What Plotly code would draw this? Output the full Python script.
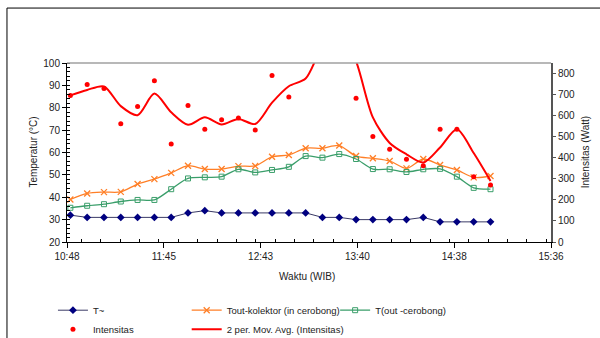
import pandas as pd
import plotly.graph_objects as go

# Measurement times (WIB), one reading every 10 minutes
waktu = ["10:50", "11:00", "11:10", "11:20", "11:30", "11:40", "11:50", "12:00",
         "12:10", "12:20", "12:30", "12:40", "12:50", "13:00", "13:10", "13:20",
         "13:30", "13:40", "13:50", "14:00", "14:10", "14:20", "14:30", "14:40",
         "14:50", "15:00"]

# Ambient temperature (°C)
t_ambient = [32, 31, 31, 31, 31, 31, 31, 33, 34, 33, 33, 33, 33, 33, 33, 31,
             31, 30, 30, 30, 30, 31, 29, 29, 29, 29]

# Collector outlet temperature, inside the chimney (°C)
t_out_kolektor = [39.0, 41.7, 42.3, 42.4, 45.9, 48.1, 50.9, 54.1, 52.6, 52.6,
                  53.9, 54.0, 58.1, 58.9, 61.9, 61.9, 63.1, 58.4, 57.4, 56.2,
                  52.9, 57.1, 54.4, 52.2, 48.9, 49.5]

# Chimney outlet temperature (°C)
t_out_cerobong = [35.3, 36.2, 36.9, 38.1, 38.8, 38.8, 43.6, 48.4, 48.9, 49.2,
                  52.5, 51.1, 52.2, 53.6, 58.4, 57.7, 59.3, 57.1, 52.6, 52.5,
                  51.3, 52.5, 52.7, 49.2, 44.2, 43.6]

# Solar intensity (Watt)
intensitas = [697, 749, 730, 562, 644, 767, 466, 649, 536, 581, 589, 533, 792,
              689, 865, 1000, 1035, 684, 501, 441, 393, 363, 536, 536, 310, 271]

x = pd.to_datetime(["2000-01-01 " + w for w in waktu])
ma2 = pd.Series(intensitas).rolling(2, min_periods=1).mean()

FONT = "Liberation Sans, Arial, sans-serif"
axis_start = "2000-01-01 10:48"
axis_end = "2000-01-01 15:36"
step_ms = 57.6 * 60 * 1000  # 0.04 day

fig = go.Figure()

fig.add_trace(go.Scatter(
    x=x, y=t_ambient, name="T~", mode="lines+markers",
    line=dict(color="#3a3a66", width=1),
    marker=dict(symbol="diamond", size=6, color="#000080"),
    legend="legend"))

fig.add_trace(go.Scatter(
    x=x, y=t_out_kolektor, name="Tout-kolektor (in cerobong)", mode="lines+markers",
    line=dict(color="#ff7f27", width=1.3, shape="spline", smoothing=0.8),
    marker=dict(symbol="x-thin", size=6, color="#ff7f27",
                line=dict(color="#ff7f27", width=1.3)),
    legend="legend2"))

fig.add_trace(go.Scatter(
    x=x, y=t_out_cerobong, name="T(out -cerobong)", mode="lines+markers",
    line=dict(color="#3a9e6a", width=1.3, shape="spline", smoothing=0.8),
    marker=dict(symbol="square-open", size=5, color="#3a9e6a",
                line=dict(color="#3a9e6a", width=1)),
    legend="legend3"))

fig.add_trace(go.Scatter(
    x=x, y=intensitas, name="Intensitas", mode="markers", yaxis="y2",
    marker=dict(symbol="circle", size=5, color="#ff0000"),
    legend="legend"))

fig.add_trace(go.Scatter(
    x=x, y=ma2, name="2 per. Mov. Avg. (Intensitas)", mode="lines", yaxis="y2",
    line=dict(color="#ff0000", width=2, shape="spline", smoothing=0.8),
    legend="legend2"))

legend_common = dict(
    orientation="v", xanchor="left", yanchor="top", y=-0.30,
    font=dict(family=FONT, size=9.5, color="#222"),
    bgcolor="rgba(0,0,0,0)", borderwidth=0, tracegroupgap=0,
    traceorder="normal")

fig.update_layout(
    width=600, height=338,
    margin=dict(l=67, r=49, t=63, b=96, autoexpand=False),
    paper_bgcolor="white", plot_bgcolor="white",
    font=dict(family=FONT, size=10, color="#222"),
    showlegend=True,
    legend=dict(x=-0.029, **legend_common),
    legend2=dict(x=0.2473, **legend_common),
    legend3=dict(x=0.554, **legend_common),
    xaxis=dict(
        type="date", range=[axis_start, axis_end],
        tick0=axis_start, dtick=step_ms, tickformat="%H:%M",
        showgrid=False, zeroline=False,
        showline=True, linecolor="#000", linewidth=1,
        ticks="outside", ticklen=5, tickcolor="#000",
        minor=dict(dtick=step_ms / 5, ticks="inside", ticklen=3,
                   tickcolor="#000", showgrid=False),
        tickfont=dict(size=10, color="#222")),
    yaxis=dict(
        range=[20, 100], dtick=10,
        showgrid=False, zeroline=False,
        showline=True, linecolor="#000", linewidth=1,
        ticks="outside", ticklen=4, tickcolor="#000",
        minor=dict(dtick=2, ticks="inside", ticklen=3,
                   tickcolor="#000", showgrid=False),
        tickfont=dict(size=10, color="#222")),
    yaxis2=dict(
        overlaying="y", side="right", anchor="x",
        range=[0, 851], dtick=100,
        showgrid=False, zeroline=False,
        showline=True, linecolor="#555", linewidth=2,
        ticks="outside", ticklen=3, tickcolor="#555",
        tickfont=dict(size=10, color="#222")),
)

# Axis titles
fig.add_annotation(text="Temperatur (°C)", textangle=-90, showarrow=False,
                   xref="paper", yref="paper", x=-0.070, y=0.5,
                   xanchor="center", yanchor="middle",
                   font=dict(family=FONT, size=10, color="#222"))
fig.add_annotation(text="Intensitas (Watt)", textangle=-90, showarrow=False,
                   xref="paper", yref="paper", x=1.072, y=0.5,
                   xanchor="center", yanchor="middle",
                   font=dict(family=FONT, size=10, color="#222"))
fig.add_annotation(text="Waktu (WIB)", showarrow=False,
                   xref="paper", yref="paper", x=0.495, y=-0.19,
                   xanchor="center", yanchor="middle",
                   font=dict(family=FONT, size=10, color="#222"))

# Plot-area top border and chart frame
fig.add_shape(type="line", xref="paper", yref="paper", x0=0, x1=1, y0=1, y1=1,
              line=dict(color="#a0a0a0", width=1.5))
fig.add_shape(type="line", xref="paper", yref="paper", x0=-0.124, x1=-0.124,
              y0=1.307, y1=-0.6, line=dict(color="#000", width=1))
fig.add_shape(type="line", xref="paper", yref="paper", x0=-0.124, x1=1.11,
              y0=1.307, y1=1.307, line=dict(color="#000", width=1))

fig.write_html("out.html")
